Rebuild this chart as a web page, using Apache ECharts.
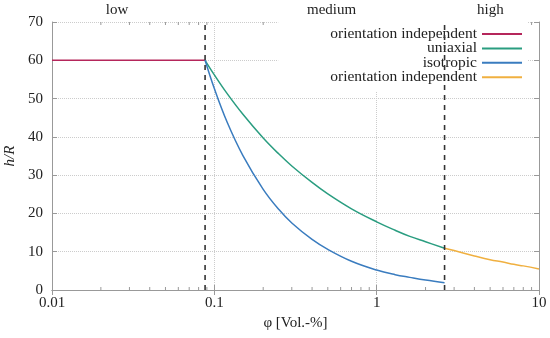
<!DOCTYPE html>
<html><head><meta charset="utf-8">
<script src="https://cdn.jsdelivr.net/npm/echarts@6/dist/echarts.min.js"></script>
<style>html,body{margin:0;padding:0;background:#fff}#c{width:550px;height:338px}</style>
</head><body><div id="c"></div>
<script>
// Region boundaries (phi, Vol.-%)
var boundaries = [0.0877, 2.62];
var regionLabels = ['low', 'medium', 'high'];
// orientation independent (low)
var lowX = [0.01, 0.0877];
var lowY = [60, 60];
// uniaxial (medium)
var uniX = [0.0877, 0.1, 0.12, 0.15, 0.2, 0.25, 0.3, 0.4, 0.5, 0.7, 1, 1.3, 1.6, 2, 2.62];
var uniY = [60, 56.2, 51.3, 45.9, 39.7, 35.5, 32.4, 28.1, 25.1, 21.2, 17.8, 15.6, 14.0, 12.6, 10.9];
// isotropic (medium)
var isoX = [0.0877, 0.1, 0.12, 0.15, 0.2, 0.25, 0.3, 0.4, 0.5, 0.7, 1, 1.3, 1.6, 2, 2.62];
var isoY = [60, 52.6, 43.8, 35.1, 26.3, 21.0, 17.5, 13.2, 10.6, 7.5, 5.2, 4.0, 3.3, 2.6, 1.9];
// orientation independent (high)
var highX = [2.62, 3, 4, 5, 6, 7, 8, 10];
var highY = [10.9, 10.3, 8.9, 7.9, 7.3, 6.7, 6.3, 5.5];
// axis ticks
var xTickLabels = ['0.01', '0.1', '1', '10'];
var yTicks = [0, 10, 20, 30, 40, 50, 60, 70];
var minorTicks = [0.02,0.03,0.04,0.05,0.06,0.07,0.08,0.09,0.2,0.3,0.4,0.5,0.6,0.7,0.8,0.9,2,3,4,5,6,7,8,9];
var legendNames = {
  oiLow: 'orientation independent',
  uni: 'uniaxial',
  iso: 'isotropic',
  oiHigh: 'orientation independent'
};

function zip(a, b) { return a.map(function (v, i) { return [v, b[i]]; }); }

var font = 'Liberation Serif';
var axisGray = '#999';
var chart = echarts.init(document.getElementById('c'), null, {renderer: 'canvas'});

var boundarySeries = boundaries.map(function (b, i) {
  return {name: 'bound' + i, type: 'line', data: [[b, 0], [b, 70]], showSymbol: false, z: 10,
    silent: true, lineStyle: {color: '#333', type: [5, 5], width: 1.6}};
});

var option = {
  animation: false,
  backgroundColor: '#fff',
  grid: {left: 52, right: 11, top: 22, bottom: 48, containLabel: false, outerBoundsMode: 'none'},
  legend: {
    orient: 'vertical', right: 22, top: 22, align: 'right',
    data: ['oiLow', 'uni', 'iso', 'oiHigh'],
    formatter: function (n) { return legendNames[n]; },
    icon: 'rect', itemWidth: 40, itemHeight: 2, itemGap: -1.6,
    padding: [4, 6, 6, 52],
    backgroundColor: '#fff',
    textStyle: {fontFamily: font, fontSize: 15.5, lineHeight: 14.4, color: '#222'},
    selectedMode: false
  },
  xAxis: [{
    type: 'log', logBase: 10, min: 0.01, max: 10,
    name: 'φ [Vol.-%]', nameLocation: 'middle', nameGap: 22,
    nameTextStyle: {fontFamily: font, fontSize: 15, color: '#222'},
    axisLine: {show: true, lineStyle: {color: axisGray}},
    axisTick: {show: true, inside: true, length: 5, lineStyle: {color: axisGray}},
    axisLabel: {fontFamily: font, fontSize: 15, color: '#222', margin: 6,
      formatter: function (v) { var i = Math.round(Math.log10(v)) + 2; return xTickLabels[i]; }},
    splitLine: {show: true, lineStyle: {color: '#ccc', type: 'dotted'}}
  }, {
    type: 'log', logBase: 10, min: 0.01, max: 10, position: 'top',
    axisLine: {show: true, lineStyle: {color: axisGray}},
    axisTick: {show: true, inside: true, length: 5, lineStyle: {color: axisGray}},
    axisLabel: {show: false}, splitLine: {show: false}
  }],
  yAxis: [{
    type: 'value', min: 0, max: 70, interval: 10,
    name: 'h/R', nameLocation: 'middle', nameGap: 30, nameRotate: 90,
    nameTextStyle: {fontFamily: font, fontSize: 15, fontStyle: 'italic', color: '#222'},
    axisLine: {show: true, lineStyle: {color: axisGray}},
    axisTick: {show: true, inside: true, length: 5, lineStyle: {color: axisGray}},
    axisLabel: {fontFamily: font, fontSize: 15, color: '#222', margin: 9,
      formatter: function (v) { return yTicks.indexOf(v) >= 0 ? String(v) : ''; }},
    splitLine: {show: true, lineStyle: {color: '#ccc', type: 'dotted'}}
  }, {
    type: 'value', min: 0, max: 70, interval: 10, position: 'right',
    axisLine: {show: true, lineStyle: {color: axisGray}},
    axisTick: {show: true, inside: true, length: 5, lineStyle: {color: axisGray}},
    axisLabel: {show: false}, splitLine: {show: false}
  }],
  series: [
    {name: 'oiLow', type: 'line', data: zip(lowX, lowY), showSymbol: false,
      lineStyle: {color: '#b5265b', width: 1.5}, itemStyle: {color: '#b5265b'}},
    {name: 'uni', type: 'line', smooth: 0.4, data: zip(uniX, uniY), showSymbol: false,
      lineStyle: {color: '#2a9d80', width: 1.5}, itemStyle: {color: '#2a9d80'}},
    {name: 'iso', type: 'line', smooth: 0.4, data: zip(isoX, isoY), showSymbol: false,
      lineStyle: {color: '#3a7cbf', width: 1.5}, itemStyle: {color: '#3a7cbf'}},
    {name: 'oiHigh', type: 'line', smooth: 0.4, data: zip(highX, highY), showSymbol: false,
      lineStyle: {color: '#f0b040', width: 1.5}, itemStyle: {color: '#f0b040'}},
    {name: 'minor', type: 'custom', silent: true, z: 3,
      data: minorTicks.map(function (m) { return [m, 0]; }),
      renderItem: function (params, api) {
        var b = api.coord([api.value(0), 0]);
        var t = api.coord([api.value(0), 70]);
        return {type: 'group', children: [
          {type: 'line', shape: {x1: b[0], y1: b[1], x2: b[0], y2: b[1] - 3}, style: {stroke: axisGray, lineWidth: 1}},
          {type: 'line', shape: {x1: t[0], y1: t[1], x2: t[0], y2: t[1] + 3}, style: {stroke: axisGray, lineWidth: 1}}
        ]};
      }}
  ].concat(boundarySeries)
};
chart.setOption(option);

// region labels above the plot, positioned through the axis scale
var lx = [Math.sqrt(0.01 * boundaries[0]) * 0.85, Math.sqrt(boundaries[0] * boundaries[1]) * 1.1, Math.sqrt(boundaries[1] * 10) * 0.98];
chart.setOption({
  graphic: regionLabels.map(function (t, i) {
    var p = chart.convertToPixel({xAxisIndex: 0, yAxisIndex: 0}, [lx[i], 70]);
    return {type: 'text', x: p[0], y: 10, style: {text: t, fontFamily: font, fontSize: 15, fill: '#222', align: 'center', verticalAlign: 'middle'}};
  })
});
</script></body></html>
